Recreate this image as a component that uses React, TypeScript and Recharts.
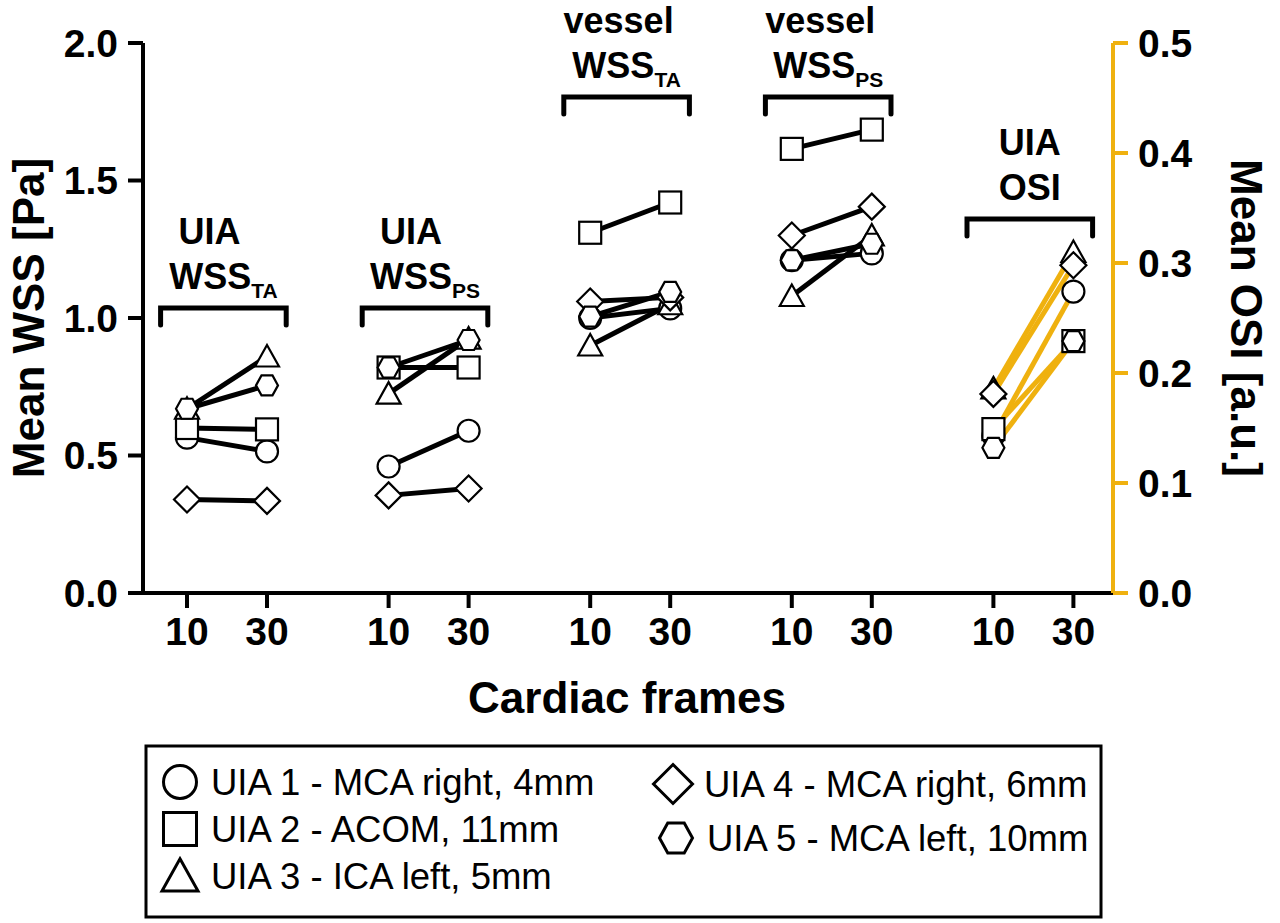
import { ScatterChart, Scatter, XAxis, YAxis, ReferenceLine } from "recharts"

const frames = [10, 30]

const groupTitles = [
  ["UIA", "WSS", "TA"],
  ["UIA", "WSS", "PS"],
  ["vessel", "WSS", "TA"],
  ["vessel", "WSS", "PS"],
  ["UIA", "OSI", ""],
]

const subjectNames = [
  "UIA 1 - MCA right, 4mm",
  "UIA 2 - ACOM, 11mm",
  "UIA 3 - ICA left, 5mm",
  "UIA 4 - MCA right, 6mm",
  "UIA 5 - MCA left, 10mm",
]

const subjectShapes = ["circle", "square", "triangle", "diamond", "hexagon"]

// values per group: [10 frames, 30 frames]; last group is OSI (right axis)
const uia1 = [[0.565, 0.515], [0.46, 0.59], [1.0, 1.035], [1.21, 1.235], [0.143, 0.274]]
const uia2 = [[0.6, 0.595], [0.82, 0.82], [1.31, 1.42], [1.615, 1.685], [0.149, 0.229]]
const uia3 = [[0.67, 0.86], [0.725, 0.925], [0.9, 1.05], [1.08, 1.3], [0.186, 0.31]]
const uia4 = [[0.34, 0.335], [0.355, 0.38], [1.06, 1.075], [1.3, 1.405], [0.181, 0.298]]
const uia5 = [[0.67, 0.755], [0.82, 0.92], [1.005, 1.095], [1.21, 1.27], [0.132, 0.229]]

const subjects = [uia1, uia2, uia3, uia4, uia5]

const wssTicks = [0, 0.5, 1.0, 1.5, 2.0]
const osiTicks = [0, 0.1, 0.2, 0.3, 0.4, 0.5]

// layout
const GROUP_GAP = 2.52
const pos = (g: number, f: number) => g * GROUP_GAP + f
const BRACKET_Y = [1.036, 1.036, 1.804, 1.804, 1.36]
const TITLE_DX = [-14, -14, -8, -8, 0]
const ORANGE = "#EFB10F"
const FONT = "'Liberation Sans', Arial, Helvetica, sans-serif"

const xTicks = groupTitles.flatMap((_, g) => frames.map((_, f) => pos(g, f)))
const xLabel = (v: number) => {
  const idx = xTicks.findIndex((t) => Math.abs(t - v) < 1e-6)
  return idx < 0 ? "" : String(frames[idx % 2])
}

function Marker({ kind, cx, cy, s = 1, sw = 2.2 }: any) {
  const st = { fill: "#fff", stroke: "#000", strokeWidth: sw }
  switch (kind) {
    case "circle":
      return <circle cx={cx} cy={cy} r={11 * s} {...st} />
    case "square":
      return <rect x={cx - 11 * s} y={cy - 11 * s} width={22 * s} height={22 * s} {...st} />
    case "triangle":
      return (
        <polygon
          points={`${cx},${cy - 11.5 * s} ${cx + 12 * s},${cy + 10 * s} ${cx - 12 * s},${cy + 10 * s}`}
          {...st}
        />
      )
    case "diamond":
      return (
        <polygon
          points={`${cx},${cy - 13 * s} ${cx + 13 * s},${cy} ${cx},${cy + 13 * s} ${cx - 13 * s},${cy}`}
          {...st}
        />
      )
    default:
      return (
        <polygon
          points={`${cx - 11 * s},${cy} ${cx - 5.5 * s},${cy - 10 * s} ${cx + 5.5 * s},${cy - 10 * s} ${cx + 11 * s},${cy} ${cx + 5.5 * s},${cy + 10 * s} ${cx - 5.5 * s},${cy + 10 * s}`}
          {...st}
        />
      )
  }
}

function Bracket({ x1, y1, x2, title, dx }: any) {
  const cx = (x1 + x2) / 2
  return (
    <g>
      <path
        d={`M${x1},${y1 + 17} L${x1},${y1} L${x2},${y1} L${x2},${y1 + 17}`}
        fill="none"
        stroke="#000"
        strokeWidth={5}
        strokeLinecap="round"
        strokeLinejoin="miter"
      />
      <text x={cx + dx} y={y1 - 64} textAnchor="middle" fontFamily={FONT} fontWeight="bold" fontSize={36} fill="#000">
        {title[0]}
      </text>
      <text x={cx} y={y1 - 19} textAnchor="middle" fontFamily={FONT} fontWeight="bold" fontSize={36} fill="#000">
        <tspan>{title[1]}</tspan>
        {title[2] ? (
          <tspan fontSize={21} dy={9}>
            {title[2]}
          </tspan>
        ) : null}
      </text>
    </g>
  )
}

const tickStyle = { fill: "#000", fontSize: 39, fontWeight: "bold", fontFamily: FONT }

export default function App() {
  const lineSeries: any[] = []
  const markerSeries: any[] = []
  groupTitles.forEach((_, g) => {
    const axis = g === 4 ? "osi" : "wss"
    const color = g === 4 ? ORANGE : "#000"
    subjects.forEach((vals, s) => {
      const data = frames.map((fr, f) => ({ x: pos(g, f), y: vals[g][f], frame: fr }))
      lineSeries.push(
        <Scatter
          key={`l-${g}-${s}`}
          data={data}
          yAxisId={axis}
          dataKey="y"
          line={{ stroke: color, strokeWidth: 5 }}
          shape={() => <g />}
          isAnimationActive={false}
        />
      )
      markerSeries.push(
        <Scatter
          key={`m-${g}-${s}`}
          data={data}
          yAxisId={axis}
          dataKey="y"
          shape={(p: any) => <Marker kind={subjectShapes[s]} cx={p.cx} cy={p.cy} />}
          isAnimationActive={false}
        />
      )
    })
  })

  const legendRows = [
    { s: 0, x: 180, y: 782 },
    { s: 1, x: 180, y: 829 },
    { s: 2, x: 180, y: 876 },
    { s: 3, x: 673, y: 784 },
    { s: 4, x: 676, y: 838 },
  ]

  return (
    <div style={{ position: "relative", width: 1280, height: 923, background: "#fff" }}>
      <style>{"body{margin:0;background:#fff}"}</style>
      <ScatterChart width={1280} height={923} margin={{ top: 43, right: 67, bottom: 270, left: 43 }}>
        <XAxis
          type="number"
          dataKey="x"
          domain={[-0.55, 11.575]}
          ticks={xTicks}
          tickFormatter={xLabel}
          interval={0}
          height={60}
          axisLine={{ stroke: "#000", strokeWidth: 4 }}
          tickLine={{ stroke: "#000", strokeWidth: 4 }}
          tickSize={15}
          tickMargin={9}
          tick={tickStyle}
          allowDataOverflow
        />
        <YAxis
          yAxisId="wss"
          type="number"
          domain={[0, 2]}
          ticks={wssTicks}
          tickFormatter={(v: number) => v.toFixed(1)}
          width={100}
          axisLine={{ stroke: "#000", strokeWidth: 4 }}
          tickLine={{ stroke: "#000", strokeWidth: 4 }}
          tickSize={15}
          tickMargin={10}
          tick={tickStyle}
        />
        <YAxis
          yAxisId="osi"
          orientation="right"
          type="number"
          domain={[0, 0.5]}
          ticks={osiTicks}
          tickFormatter={(v: number) => v.toFixed(1)}
          width={100}
          axisLine={{ stroke: ORANGE, strokeWidth: 4 }}
          tickLine={{ stroke: ORANGE, strokeWidth: 4 }}
          tickSize={15}
          tickMargin={10}
          tick={tickStyle}
        />
        {groupTitles.map((t, g) => (
          <ReferenceLine
            key={`b-${g}`}
            yAxisId="wss"
            segment={[
              { x: pos(g, 0) - 0.33, y: BRACKET_Y[g] },
              { x: pos(g, 1) + 0.24, y: BRACKET_Y[g] },
            ]}
            stroke="#000"
            shape={(p: any) => <Bracket {...p} title={t} dx={TITLE_DX[g]} />}
          />
        ))}
        {lineSeries}
        {markerSeries}
      </ScatterChart>
      <svg
        width={1280}
        height={923}
        style={{ position: "absolute", left: 0, top: 0, pointerEvents: "none" }}
      >
        <text
          transform="translate(28,318) rotate(-90)"
          textAnchor="middle"
          dominantBaseline="central"
          fontFamily={FONT}
          fontWeight="bold"
          fontSize={44}
        >
          Mean WSS [Pa]
        </text>
        <text
          transform="translate(1246,318) rotate(90)"
          textAnchor="middle"
          dominantBaseline="central"
          fontFamily={FONT}
          fontWeight="bold"
          fontSize={44}
        >
          Mean OSI [a.u.]
        </text>
        <text x={627} y={713} textAnchor="middle" fontFamily={FONT} fontWeight="bold" fontSize={44}>
          Cardiac frames
        </text>
        <rect x={146} y={746} width={955} height={171} fill="none" stroke="#000" strokeWidth={3} />
        {legendRows.map((r) => (
          <g key={r.s}>
            <Marker kind={subjectShapes[r.s]} cx={r.x} cy={r.y} s={1.5} sw={3} />
            <text x={r.x + 31} y={r.y + 13} fontFamily={FONT} fontSize={36.5} fill="#000">
              {subjectNames[r.s]}
            </text>
          </g>
        ))}
      </svg>
    </div>
  )
}
